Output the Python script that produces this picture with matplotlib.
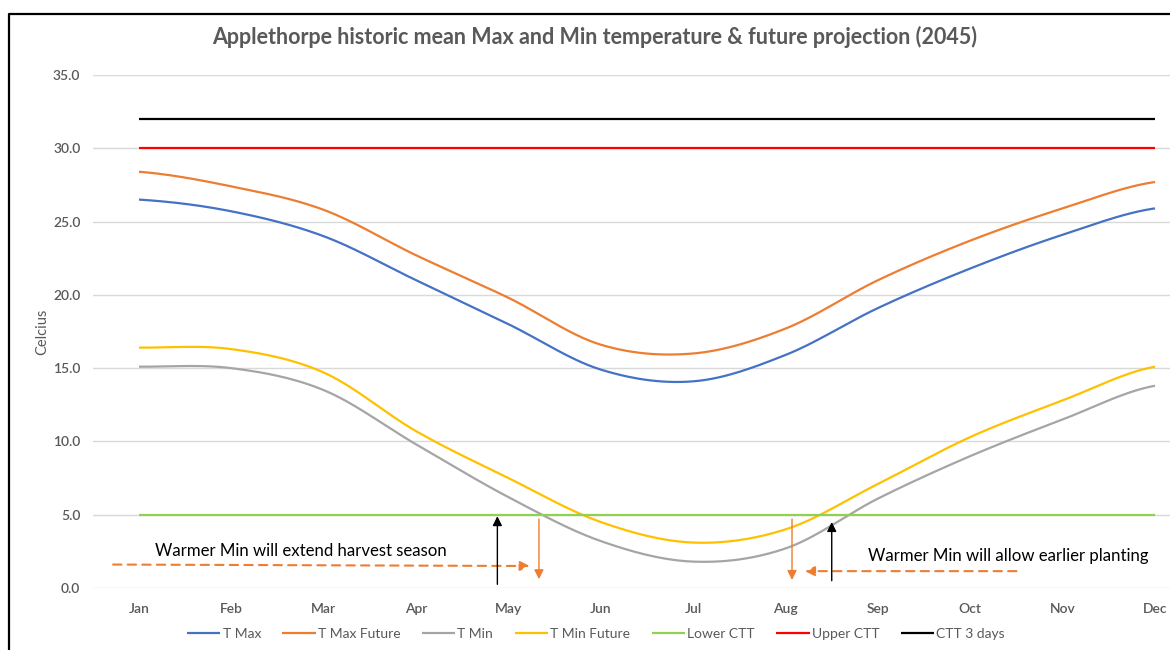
import numpy as np
import matplotlib
matplotlib.use("Agg")
import matplotlib.pyplot as plt
from matplotlib.lines import Line2D

months = ["Jan", "Feb", "Mar", "Apr", "May", "Jun", "Jul", "Aug", "Sep", "Oct", "Nov", "Dec"]
t_max = [26.5, 25.7, 24.0, 21.0, 18.0, 14.9, 14.1, 15.9, 19.1, 21.8, 24.1, 25.9]
t_max_future = [28.4, 27.4, 25.8, 22.7, 19.8, 16.6, 16.0, 17.7, 21.0, 23.7, 25.9, 27.7]
t_min = [15.1, 15.0, 13.5, 9.8, 6.2, 3.2, 1.8, 2.7, 6.1, 9.0, 11.5, 13.8]
t_min_future = [16.4, 16.3, 14.7, 10.7, 7.5, 4.5, 3.1, 4.0, 7.1, 10.3, 12.8, 15.1]
lower_ctt = [5.0] * 12
upper_ctt = [30.0] * 12
ctt_3days = [32.0] * 12

grey = "#595959"
font = "Lato"


def smooth(vals, n=30):
    # excel style smoothed line (catmull-rom through the points)
    p = np.asarray(vals, dtype=float)
    p = np.concatenate([[p[0]], p, [p[-1]]])
    xs, ys = [], []
    for i in range(1, len(p) - 2):
        t = np.linspace(0, 1, n, endpoint=False)
        p0, p1, p2, p3 = p[i - 1], p[i], p[i + 1], p[i + 2]
        y = 0.5 * (2 * p1 + (-p0 + p2) * t + (2 * p0 - 5 * p1 + 4 * p2 - p3) * t ** 2
                   + (-p0 + 3 * p1 - 3 * p2 + p3) * t ** 3)
        xs.append(i - 1 + t)
        ys.append(y)
    xs.append([len(vals) - 1])
    ys.append([vals[-1]])
    return np.concatenate(xs), np.concatenate(ys)


fig = plt.figure(figsize=(11.7, 6.5), dpi=100)
ax = fig.add_axes([92.8 / 1170, 62 / 650, 1108.4 / 1170, 513 / 650])

series = [
    ("T Max", t_max, "#4472C4", True),
    ("T Max Future", t_max_future, "#ED7D31", True),
    ("T Min", t_min, "#A5A5A5", True),
    ("T Min Future", t_min_future, "#FFC000", True),
    ("Lower CTT", lower_ctt, "#92D050", False),
    ("Upper CTT", upper_ctt, "#FF0000", False),
    ("CTT 3 days", ctt_3days, "#000000", False),
]
x = np.arange(len(months))
for name, vals, col, sm in series:
    if sm:
        xs, ys = smooth(vals)
    else:
        xs, ys = x, vals
    ax.plot(xs, ys, color=col, lw=1.6, label=name, solid_capstyle="butt")

ax.set_xlim(-0.5, 11.5)
ax.set_ylim(0, 35)
ax.set_yticks(np.arange(0, 36, 5))
ax.set_yticklabels([f"{v:.1f}" for v in np.arange(0, 36, 5)])
ax.set_xticks(x)
ax.set_xticklabels(months)
ax.grid(axis="y", color="#d9d9d9", lw=1)
ax.set_axisbelow(True)
for s in ax.spines.values():
    s.set_visible(False)
ax.tick_params(length=0, labelsize=10, labelcolor=grey)
ax.tick_params(axis="x", pad=10.5)
ax.tick_params(axis="y", pad=9)
for lab in ax.get_xticklabels() + ax.get_yticklabels():
    lab.set_fontfamily(font)
    lab.set_fontweight("semibold")
ax.set_ylabel("Celcius", fontsize=10.5, color=grey, family=font, labelpad=3)

# annotations
ann_col = "#ED7D31"
ax.annotate("", xy=(4.23, 1.5), xytext=(-0.28, 1.6),
            arrowprops=dict(arrowstyle="-|>", color=ann_col, lw=1.5, ls=(0, (4, 3)),
                            mutation_scale=14, shrinkA=0, shrinkB=0))
ax.annotate("", xy=(3.88, 4.9), xytext=(3.88, 0.25),
            arrowprops=dict(arrowstyle="-|>", color="black", lw=1, mutation_scale=14,
                            shrinkA=0, shrinkB=0))
ax.annotate("", xy=(4.33, 0.6), xytext=(4.33, 4.7),
            arrowprops=dict(arrowstyle="-|>", color=ann_col, lw=1, mutation_scale=14,
                            shrinkA=0, shrinkB=0))
ax.text(0.17, 2.55, "Warmer Min will extend harvest season", fontsize=12.1,
        family=font, va="center", ha="left")

ax.annotate("", xy=(7.21, 1.15), xytext=(9.5, 1.15),
            arrowprops=dict(arrowstyle="-|>", color=ann_col, lw=1.5, ls=(0, (4, 3)),
                            mutation_scale=14, shrinkA=0, shrinkB=0))
ax.annotate("", xy=(7.5, 4.5), xytext=(7.5, 0.5),
            arrowprops=dict(arrowstyle="-|>", color="black", lw=1, mutation_scale=14,
                            shrinkA=0, shrinkB=0))
ax.annotate("", xy=(7.07, 0.55), xytext=(7.07, 4.7),
            arrowprops=dict(arrowstyle="-|>", color=ann_col, lw=1, mutation_scale=14,
                            shrinkA=0, shrinkB=0))
ax.text(7.89, 2.2, "Warmer Min will allow earlier planting", fontsize=12.1,
        family=font, va="center", ha="left")

fig.text(595 / 1170, 1 - 37 / 650,
         "Applethorpe historic mean Max and Min temperature & future projection (2045)",
         fontsize=15.5, fontweight="bold", color=grey, family=font, ha="center", va="center")

leg = fig.legend(loc="center", bbox_to_anchor=(596 / 1170, 1 - 634 / 650), ncol=7,
                 frameon=False, handlelength=2.4, handletextpad=0.15,
                 columnspacing=1.55, prop={"family": font, "size": 10})
for t in leg.get_texts():
    t.set_color(grey)

# chart frame (cropped on right and bottom)
fig.add_artist(Line2D([9 / 1170, 9 / 1170, 1.0], [0.0, 1 - 14 / 650, 1 - 14 / 650],
                      transform=fig.transFigure, color="black", lw=1.6))

fig.savefig("out.png", dpi=100)
